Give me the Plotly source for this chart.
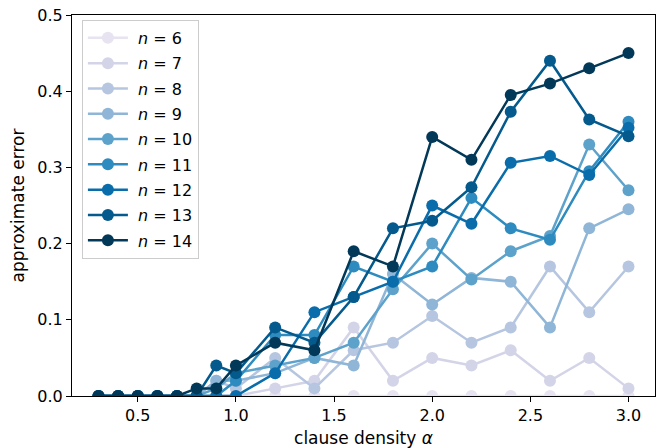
import plotly.graph_objects as go

# clause densities sampled
alpha = [0.3, 0.4, 0.5, 0.6, 0.7, 0.8, 0.9, 1.0, 1.2, 1.4, 1.6, 1.8, 2.0, 2.2, 2.4, 2.6, 2.8, 3.0]

# approximate error per problem size n
err_n6 = [0, 0, 0, 0, 0, 0, 0, 0, 0, 0.0, 0, 0, 0, 0, 0, 0, 0, 0]
err_n7 = [0, 0, 0, 0, 0, 0, 0, 0, 0.01, 0.02, 0.09, 0.02, 0.05, 0.04, 0.06, 0.02, 0.05, 0.01]
err_n8 = [0, 0, 0, 0, 0, 0, 0.02, 0.01, 0.05, 0.01, 0.06, 0.07, 0.105, 0.07, 0.09, 0.17, 0.11, 0.17]
err_n9 = [0, 0, 0, 0, 0, 0, 0.02, 0.02, 0.03, 0.05, 0.04, 0.16, 0.12, 0.155, 0.15, 0.09, 0.22, 0.245]
err_n10 = [0, 0, 0, 0, 0, 0, 0.01, 0.03, 0.04, 0.05, 0.07, 0.14, 0.20, 0.153, 0.19, 0.21, 0.33, 0.27]
err_n11 = [0, 0, 0, 0, 0, 0, 0, 0.02, 0.08, 0.08, 0.17, 0.15, 0.17, 0.26, 0.22, 0.205, 0.295, 0.36]
err_n12 = [0, 0, 0, 0, 0, 0, 0, 0.0, 0.03, 0.11, 0.13, 0.15, 0.25, 0.226, 0.306, 0.315, 0.29, 0.352]
err_n13 = [0, 0, 0, 0, 0, 0, 0.04, 0.03, 0.09, 0.07, 0.13, 0.22, 0.23, 0.274, 0.373, 0.44, 0.363, 0.341]
err_n14 = [0, 0, 0, 0, 0, 0.01, 0.01, 0.04, 0.07, 0.06, 0.19, 0.17, 0.34, 0.31, 0.395, 0.41, 0.43, 0.45]

sizes = [6, 7, 8, 9, 10, 11, 12, 13, 14]
series = [err_n6, err_n7, err_n8, err_n9, err_n10, err_n11, err_n12, err_n13, err_n14]
colors = ["#e7e3f0", "#d4d4e8", "#b6c6e0", "#8fb5d7", "#5da2cb", "#2e8bbf", "#0a6dab",
          "#045a8d", "#023858"]

fig = go.Figure()
for n, ys, c in zip(sizes, series, colors):
    fig.add_trace(go.Scatter(
        x=alpha, y=ys, mode="lines+markers",
        name=f"\u00a0<i>n</i> = {n}", legendgroup=f"n{n}",
        line=dict(color=c, width=2.5),
        marker=dict(color=c, size=12),
    ))

tick_font = dict(family="DejaVu Sans", size=16, color="black")
title_font = dict(family="DejaVu Sans", size=17, color="black")

fig.update_layout(
    width=658, height=448,
    margin=dict(l=72, r=3, t=15, b=52),
    paper_bgcolor="white", plot_bgcolor="white",
    font=tick_font,
    showlegend=True,
    legend=dict(
        x=0.017, y=0.987, xanchor="left", yanchor="top",
        bgcolor="rgba(255,255,255,0.8)", bordercolor="#cccccc", borderwidth=1,
        font=dict(family="DejaVu Sans", size=16, color="black"),
        tracegroupgap=1.5, itemwidth=40,
    ),
)

fig.update_xaxes(
    range=[0.165, 3.135], tickvals=[0.5, 1.0, 1.5, 2.0, 2.5, 3.0],
    ticktext=["0.5", "1.0", "1.5", "2.0", "2.5", "3.0"],
    showgrid=False, zeroline=False, showline=True, linecolor="black", linewidth=1.2,
    mirror=True, ticks="outside", ticklen=5, tickcolor="black", tickfont=tick_font,
    title=dict(text="clause density <i>α</i>", font=title_font, standoff=8),
)
fig.update_yaxes(
    range=[0, 0.5], tickvals=[0.0, 0.1, 0.2, 0.3, 0.4, 0.5],
    ticktext=["0.0", "0.1", "0.2", "0.3", "0.4", "0.5"],
    showgrid=False, zeroline=False, showline=True, linecolor="black", linewidth=1.2,
    mirror=True, ticks="outside", ticklen=5, tickcolor="black", tickfont=tick_font,
    title=dict(text="approximate error", font=title_font, standoff=8),
)

fig.write_html("out.html")
